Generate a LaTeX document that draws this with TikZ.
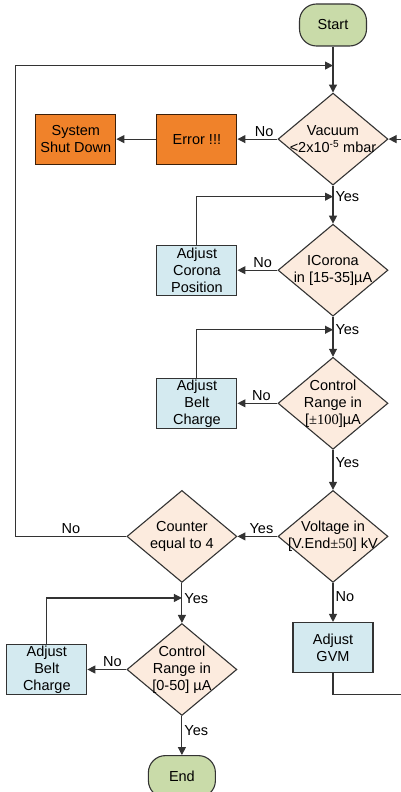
\documentclass[tikz,border=0pt]{standalone}
\usepackage{fontspec}
\setmainfont{Liberation Sans}
\newfontfamily\serifnum{Liberation Serif}
\usepackage{tikz}
\usetikzlibrary{arrows.meta,positioning,shapes.geometric}

\definecolor{termgreen}{HTML}{C9DBA9}
\definecolor{decpeach}{HTML}{FCEBDE}
\definecolor{actblue}{HTML}{D4EAF0}
\definecolor{errorange}{HTML}{F0822A}
\definecolor{linegray}{HTML}{333333}

\tikzset{
  terminal/.style={draw=linegray, fill=termgreen, rounded corners=17pt, minimum width=67pt, minimum height=42pt, inner sep=0pt},
  decision/.style={draw=linegray, fill=decpeach, diamond, minimum width=110pt, minimum height=92pt, inner sep=0pt},
  action/.style={draw=linegray, fill=actblue, minimum width=80pt, minimum height=50pt, inner sep=0pt, align=center},
  alarm/.style={action, fill=errorange, draw=black!75!errorange},
  txt/.style={align=center, inner sep=0pt},
  lbl/.style={inner sep=2pt}
}

\begin{document}
\begin{tikzpicture}[font=\fontsize{14.5pt}{17pt}\selectfont, line width=1.1pt, draw=linegray,
                    >={Triangle[length=8pt,width=8pt]}]
  \useasboundingbox (0,0) rectangle (400pt,-792pt);

  \node[terminal] at (333pt,-25pt)                                                   (start)  {Start};
  \node[decision, below=46pt of start, label={[txt]center:{Vacuum\\<2x10\textsuperscript{-5} mbar}}] (vac) {};
  \node[alarm, left=40pt of vac]                                                     (err)    {Error !!!};
  \node[alarm, left=40pt of err]                                                     (shut)   {System\\Shut Down};
  \node[decision, below=38pt of vac, label={[txt]center:{ICorona\\in [15-35]µA}}]    (icor)   {};
  \node[action, left=40pt of icor]                                                   (corona) {Adjust\\Corona\\Position};
  \node[decision, below=40pt of icor, label={[txt]center:{Control\\Range in\\{[}{\serifnum±100}]µA}}] (ctrl) {};
  \node[action, left=40pt of ctrl]                                                   (belt)   {Adjust\\Belt\\Charge};
  \node[decision, below=40pt of ctrl, label={[txt]center:{Voltage in\\{[}V.End{\serifnum±50}] kV}}] (volt) {};
  \node[action, below=39pt of volt]                                                  (gvm)    {Adjust\\GVM};
  \node[decision, left=40pt of volt, label={[txt]center:{Counter\\equal to 4}}]      (count)  {};
  \node[decision, below=40pt of count, label={[txt]center:{Control\\Range in\\{[}0-50] µA}}] (ctrlb) {};
  \node[action, left=39pt of ctrlb]                                                  (beltb)  {Adjust\\Belt\\Charge};
  \node[terminal, below=39pt of ctrlb]                                               (fin)    {End};

  % junctions of the loops
  \coordinate[below=19pt of start]       (j0);
  \coordinate[below=11pt of vac]         (j1);
  \coordinate[below=13pt of icor]        (j2);
  \coordinate[below=15pt of count]       (j3);
  \coordinate[left=111pt of count.west]  (lft);
  \coordinate[below=21pt of gvm]         (gvmlow);
  \coordinate[right=15pt of vac.east]    (rgt);

  \path[->]
  (start) edge                                       (vac)
  (vac)   edge node [lbl,pos=0.33,above] {No}        (err)
  (err)   edge                                       (shut)
  (vac)   edge node [lbl,pos=0.3,right]  {Yes}       (icor)
  (icor)  edge node [lbl,pos=0.37,above] {No}        (corona)
  (icor)  edge node [lbl,pos=0.33,right] {Yes}       (ctrl)
  (ctrl)  edge node [lbl,pos=0.4,above]  {No}        (belt)
  (ctrl)  edge node [lbl,pos=0.33,right] {Yes}       (volt)
  (volt)  edge node [lbl,pos=0.4,above]  {Yes}       (count)
  (volt)  edge node [lbl,pos=0.36,right] {No}        (gvm)
  (count) edge node [lbl,pos=0.4,right]  {Yes}       (ctrlb)
  (ctrlb) edge node [lbl,pos=0.36,above] {No}        (beltb)
  (ctrlb) edge node [lbl,pos=0.36,right] {Yes}       (fin);

  \draw[->] (count.west) -- node [lbl,pos=0.5,above] {No} (lft) |- (j0);
  \draw[->] (corona.north) |- (j1);
  \draw[->] (belt.north) |- (j2);
  \draw[->] (beltb.north) |- (j3);
  \draw[->] (gvm.south) -- (gvmlow) -| (rgt) -- (vac.east);
\end{tikzpicture}
\end{document}
